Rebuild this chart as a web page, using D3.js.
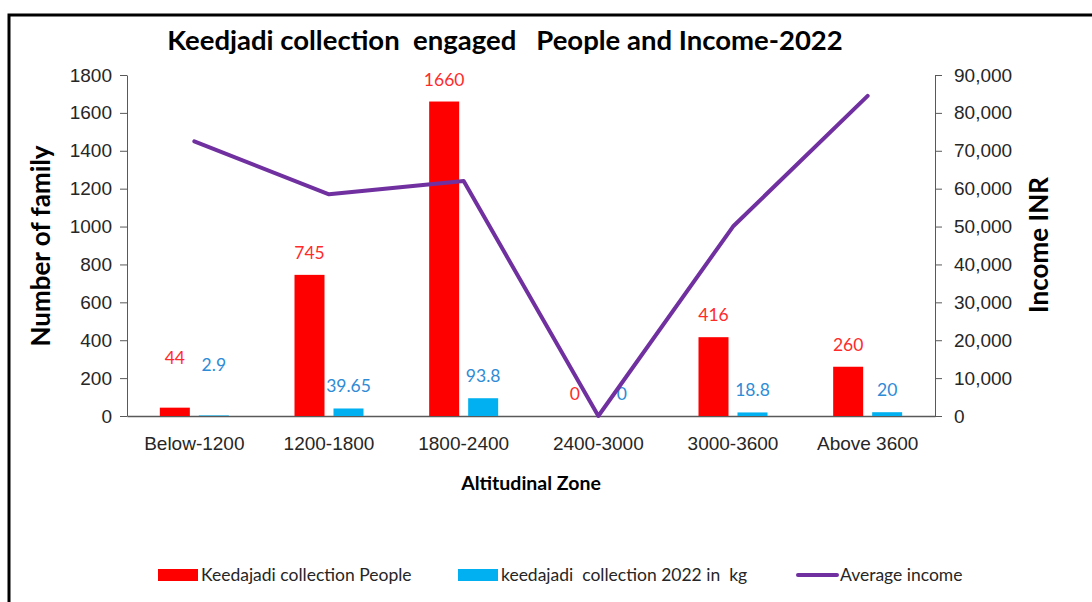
<!DOCTYPE html>
<html>
<head>
<meta charset="utf-8">
<script src="https://cdn.jsdelivr.net/npm/d3@7"></script>
<style>
  body { margin: 0; background: #fff; }
  svg { display: block; font-family: Lato, "Open Sans", sans-serif; }
  .axis path, .axis line { stroke: #595959; }
  .axis text { font-size: 19px; fill: #262626; }
</style>
</head>
<body>
<svg id="chart" width="1092" height="602"></svg>
<script>
const zones = ["Below-1200", "1200-1800", "1800-2400", "2400-3000", "3000-3600", "Above 3600"];
const people = [44, 745, 1660, 0, 416, 260];
const collectionKg = [2.9, 39.65, 93.8, 0, 18.8, 20];
const avgIncome = [72500, 58500, 62000, 0, 50000, 84500];
const leftTicks = [0, 200, 400, 600, 800, 1000, 1200, 1400, 1600, 1800];
const rightTicks = [0, 10000, 20000, 30000, 40000, 50000, 60000, 70000, 80000, 90000];

const svg = d3.select("#chart");
const plotL = 127, plotR = 935, plotT = 75, plotB = 416;

// frame
svg.append("path").attr("d", "M9,602 V15 H1092").attr("fill", "none")
    .attr("stroke", "#000").attr("stroke-width", 3);

const x = d3.scaleBand().domain(zones).range([plotL, plotR]);
const yL = d3.scaleLinear().domain([0, 1800]).range([plotB, plotT]);
const yR = d3.scaleLinear().domain([0, 90000]).range([plotB, plotT]);

const barW = 30, gap = 9;

// axes
svg.append("g").attr("class", "axis").attr("transform", `translate(${plotL},0)`)
    .call(d3.axisLeft(yL).tickValues(leftTicks).tickSize(7).tickPadding(8).tickSizeOuter(0)
        .tickFormat(d3.format("d")));
svg.append("g").attr("class", "axis").attr("transform", `translate(${plotR},0)`)
    .call(d3.axisRight(yR).tickValues(rightTicks).tickSize(7).tickPadding(12).tickSizeOuter(0)
        .tickFormat(d3.format(",")));
const xa = svg.append("g").attr("class", "axis").attr("transform", `translate(0,${plotB})`)
    .call(d3.axisBottom(x).tickSize(0).tickPadding(21));
xa.select(".domain").attr("stroke", "#000").attr("stroke-width", 1.5);

// bars
const groups = svg.append("g").selectAll("g").data(zones).join("g");
groups.append("rect")
    .attr("x", d => x(d) + x.bandwidth() / 2 - gap / 2 - barW)
    .attr("y", (d, i) => yL(people[i]))
    .attr("width", barW)
    .attr("height", (d, i) => plotB - yL(people[i]))
    .attr("fill", "#ff0000");
groups.append("rect")
    .attr("x", d => x(d) + x.bandwidth() / 2 + gap / 2)
    .attr("y", (d, i) => yL(collectionKg[i]))
    .attr("width", barW)
    .attr("height", (d, i) => plotB - yL(collectionKg[i]))
    .attr("fill", "#00b0f0");

// the first group's labels were lifted by hand in the original,
// and the zero labels sit clear of the line's dip
const lift = d => d === zones[0] ? 28 : 0;
const nudge = d => d === zones[3] ? 4 : 0;

groups.append("text")
    .attr("x", d => x(d) + x.bandwidth() / 2 - gap / 2 - barW / 2 - nudge(d))
    .attr("y", (d, i) => yL(people[i]) - 16 - lift(d))
    .attr("text-anchor", "middle").attr("font-size", 17.5).attr("fill", "#ff2b2b")
    .text((d, i) => people[i]);
groups.append("text")
    .attr("x", d => x(d) + x.bandwidth() / 2 + gap / 2 + barW / 2 + nudge(d))
    .attr("y", (d, i) => yL(collectionKg[i]) - 16 - lift(d))
    .attr("text-anchor", "middle").attr("font-size", 17.5).attr("fill", "#2e8bd6")
    .text((d, i) => collectionKg[i]);

// income line
const line = d3.line().x((d, i) => x(zones[i]) + x.bandwidth() / 2).y(d => yR(d));
svg.append("path").datum(avgIncome).attr("d", line)
    .attr("fill", "none").attr("stroke", "#7030a0").attr("stroke-width", 4)
    .attr("stroke-linejoin", "round").attr("stroke-linecap", "round");

// titles
svg.append("text").attr("x", 505).attr("y", 50).attr("text-anchor", "middle")
    .attr("font-size", 27.5).attr("font-weight", "bold").style("white-space", "pre")
    .text("Keedjadi collection  engaged   People and Income-2022");
svg.append("text").attr("transform", "translate(50,246) rotate(-90)").attr("text-anchor", "middle")
    .attr("font-size", 26).attr("font-weight", "bold").text("Number of family");
svg.append("text").attr("transform", "translate(1048,245) rotate(-90)").attr("text-anchor", "middle")
    .attr("font-size", 26).attr("font-weight", "bold").text("Income INR");
svg.append("text").attr("x", 531).attr("y", 490).attr("text-anchor", "middle")
    .attr("font-size", 19.5).attr("font-weight", "bold").text("Altitudinal Zone");

// legend
const legend = [
    { label: "Keedajadi collection People", color: "#ff0000", type: "rect", x: 158 },
    { label: "keedajadi  collection 2022 in  kg", color: "#00b0f0", type: "rect", x: 458 },
    { label: "Average income", color: "#7030a0", type: "line", x: 797 }
];
const lg = svg.append("g").selectAll("g").data(legend).join("g")
    .attr("transform", d => `translate(${d.x},575)`);
lg.filter(d => d.type === "rect").append("rect")
    .attr("x", 0).attr("y", -6).attr("width", 40).attr("height", 12).attr("fill", d => d.color);
lg.filter(d => d.type === "line").append("line")
    .attr("x1", 1).attr("x2", 40).attr("y1", 0).attr("y2", 0)
    .attr("stroke", d => d.color).attr("stroke-width", 4).attr("stroke-linecap", "round");
lg.append("text").attr("x", 43).attr("y", 6).attr("font-size", 17.5).attr("fill", "#262626")
    .style("white-space", "pre").text(d => d.label);
</script>
</body>
</html>
